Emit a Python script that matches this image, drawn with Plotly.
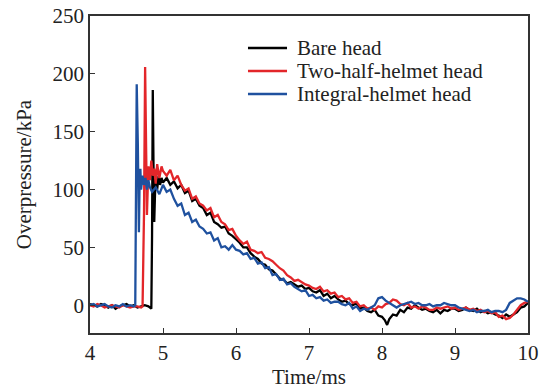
import plotly.graph_objects as go

# ---------------- data ----------------
bare_t = [4.00, 4.05, 4.10, 4.15, 4.20, 4.25, 4.30, 4.35, 4.40, 4.45, 4.50, 4.55, 4.60, 4.65, 4.70, 4.75, 4.80,
          4.82, 4.84, 4.85, 4.86, 4.87, 4.88, 4.89, 4.90, 4.92, 4.94, 4.96, 4.98,
          5.00, 5.05, 5.10, 5.15, 5.20, 5.25, 5.30, 5.35, 5.40, 5.45, 5.50, 5.55, 5.60, 5.65, 5.70, 5.75,
          5.80, 5.85, 5.90, 5.95, 6.00, 6.05, 6.10, 6.15, 6.20, 6.25, 6.30, 6.35, 6.40, 6.45, 6.50, 6.55,
          6.60, 6.65, 6.70, 6.75, 6.80, 6.85, 6.90, 6.95, 7.00, 7.05, 7.10, 7.15, 7.20, 7.25, 7.30, 7.35,
          7.40, 7.45, 7.50, 7.55, 7.60, 7.65, 7.70, 7.75, 7.80, 7.85, 7.90, 7.95, 8.00, 8.04, 8.07, 8.10,
          8.15, 8.20, 8.25, 8.30, 8.35, 8.40, 8.45, 8.50, 8.55, 8.60, 8.65, 8.70, 8.75, 8.80, 8.85, 8.90,
          8.95, 9.00, 9.05, 9.10, 9.15, 9.20, 9.25, 9.30, 9.35, 9.40, 9.45, 9.50, 9.55, 9.60, 9.65, 9.70,
          9.75, 9.80, 9.85, 9.90, 9.95, 10.00]
bare_v = [1, 0, -1, 1, 0, -2, 0, -3, -1, 0, 1, -1, 0, -2, -1, 0, -1,
          -2, -3, 60, 186, 120, 72, 95, 110, 100, 112, 104, 110,
          106, 110, 104, 107, 101, 104, 97, 99, 90, 92, 86, 84, 78, 80, 72, 70,
          67, 68, 62, 60, 57, 54, 50, 50, 45, 42, 40, 36, 35, 31, 30, 26,
          23, 22, 19, 20, 18, 16, 17, 14, 15, 12, 11, 13, 8, 10, 6, 8,
          5, 3, 4, 1, 0, 2, -3, -2, -5, -6, -4, -9, -10, -13, -17, -12,
          -8, -9, -4, -6, -2, -3, 0, -2, -4, -3, -5, -6, -4, -7, -4, -5,
          -3, -3, -5, -4, -2, -4, -5, -3, -6, -5, -7, -6, -8, -9, -11, -8,
          -10, -8, -6, -2, -1, 2]

helmet2_t = [4.00, 4.05, 4.10, 4.15, 4.20, 4.25, 4.30, 4.35, 4.40, 4.45, 4.50, 4.55, 4.60, 4.65, 4.70,
             4.72, 4.74, 4.755, 4.77, 4.78, 4.80, 4.82, 4.84, 4.86, 4.88, 4.90, 4.92, 4.95, 4.98,
             5.00, 5.05, 5.10, 5.15, 5.20, 5.25, 5.30, 5.35, 5.40, 5.45, 5.50, 5.55, 5.60, 5.65, 5.70, 5.75,
             5.80, 5.85, 5.90, 5.95, 6.00, 6.05, 6.10, 6.15, 6.20, 6.25, 6.30, 6.35, 6.40, 6.45, 6.50, 6.55,
             6.60, 6.65, 6.70, 6.75, 6.80, 6.85, 6.90, 6.95, 7.00, 7.05, 7.10, 7.15, 7.20, 7.25, 7.30, 7.35,
             7.40, 7.45, 7.50, 7.55, 7.60, 7.65, 7.70, 7.75, 7.80, 7.85, 7.90, 7.95, 8.00, 8.05, 8.10, 8.15,
             8.20, 8.25, 8.30, 8.35, 8.40, 8.45, 8.50, 8.55, 8.60, 8.65, 8.70, 8.75, 8.80, 8.85, 8.90, 8.95,
             9.00, 9.05, 9.10, 9.15, 9.20, 9.25, 9.30, 9.35, 9.40, 9.45, 9.50, 9.55, 9.60, 9.65, 9.70, 9.75,
             9.80, 9.85, 9.90, 9.95, 10.00]
helmet2_v = [0, -1, 1, 0, -2, -1, 0, -1, -2, 0, -1, -2, -1, -1, -2,
             -1, 80, 206, 130, 78, 120, 108, 125, 112, 118, 105, 122, 110, 120,
             116, 112, 117, 108, 112, 104, 99, 101, 92, 94, 88, 86, 82, 84, 76, 78,
             72, 70, 65, 66, 60, 56, 53, 55, 48, 47, 45, 46, 41, 40, 38, 35,
             32, 30, 26, 24, 21, 22, 20, 18, 17, 15, 14, 16, 12, 13, 10, 11,
             7, 8, 5, 6, 2, 3, -1, 0, -3, -2, -4, -1, -2, 1, 2, 5,
             4, 1, 0, 2, -2, -1, -3, -1, -2, -4, -4, -2, -3, -2, -1, -3,
             -2, -4, -3, -2, -4, -3, -5, -4, -6, -5, -7, -6, -10, -9, -12, -11,
             -8, -4, 0, 2, 3]

integral_t = [4.00, 4.05, 4.10, 4.15, 4.20, 4.25, 4.30, 4.35, 4.40, 4.45, 4.50, 4.55, 4.60,
              4.62, 4.63, 4.64, 4.655, 4.67, 4.68, 4.69, 4.70, 4.72, 4.74, 4.76, 4.78, 4.80, 4.82, 4.85,
              4.90, 4.95, 5.00, 5.05, 5.10, 5.15, 5.20, 5.25, 5.30, 5.35, 5.40, 5.45, 5.50, 5.55, 5.60, 5.65,
              5.70, 5.75, 5.80, 5.85, 5.90, 5.95, 6.00, 6.05, 6.10, 6.15, 6.20, 6.25, 6.30, 6.35, 6.40, 6.45,
              6.50, 6.55, 6.60, 6.65, 6.70, 6.75, 6.80, 6.85, 6.90, 6.95, 7.00, 7.05, 7.10, 7.15, 7.20, 7.25,
              7.30, 7.35, 7.40, 7.45, 7.50, 7.55, 7.60, 7.65, 7.70, 7.75, 7.80, 7.85, 7.90, 7.95, 8.00, 8.05,
              8.10, 8.15, 8.20, 8.25, 8.30, 8.35, 8.40, 8.45, 8.50, 8.55, 8.60, 8.65, 8.70, 8.75, 8.80, 8.85,
              8.90, 8.95, 9.00, 9.05, 9.10, 9.15, 9.20, 9.25, 9.30, 9.35, 9.40, 9.45, 9.50, 9.55, 9.60, 9.65,
              9.70, 9.75, 9.80, 9.85, 9.90, 9.95, 10.00]
integral_v = [0, 1, -1, 0, 1, -1, -2, 0, -1, 1, -1, 0, -1,
              0, 100, 191, 140, 63, 110, 118, 100, 112, 104, 110, 100, 108, 102, 98,
              102, 96, 104, 98, 100, 92, 86, 88, 78, 80, 72, 74, 68, 66, 62, 63,
              56, 58, 50, 51, 48, 52, 48, 47, 44, 45, 40, 41, 36, 37, 32, 33,
              26, 27, 22, 23, 18, 19, 16, 14, 12, 13, 8, 9, 6, 7, 4, 5,
              2, 3, 3, 1, 0, 2, -3, -1, -5, -3, -4, -2, 0, 6, 7, 4,
              2, 0, -2, 0, 1, 2, 3, 1, 2, 0, 0, 1, -1, 0, 0, 2,
              1, 0, 0, -2, -3, -4, -5, -4, -6, -5, -5, -4, -6, -5, -5, -6,
              -4, 2, 4, 6, 6, 5, 3]

series_names = ["Bare head", "Two-half-helmet head", "Integral-helmet head"]
series_colors = ["#000000", "#e3262a", "#1f519f"]
x_title = "Time/ms"
y_title = "Overpressure/kPa"
x_ticks = [4, 5, 6, 7, 8, 9, 10]
y_ticks = [0, 50, 100, 150, 200, 250]

# ---------------- figure ----------------
fig = go.Figure()
for t, v, name, col in zip([bare_t, helmet2_t, integral_t],
                           [bare_v, helmet2_v, integral_v],
                           series_names, series_colors):
    fig.add_trace(go.Scatter(x=t, y=v, mode="lines", name=name, showlegend=False,
                             line=dict(color=col, width=2.3)))

font_family = "Liberation Serif, Times New Roman, serif"
FS = 21

# manual legend (line sample + label), positioned in paper coordinates
leg_x0, leg_x1, leg_tx = 0.3607, 0.4498, 0.468
leg_rows = [0.899, 0.8265, 0.754]
for name, col, yy in zip(series_names, series_colors, leg_rows):
    fig.add_shape(type="line", xref="paper", yref="paper",
                  x0=leg_x0, x1=leg_x1, y0=yy, y1=yy,
                  line=dict(color=col, width=2.3))
    fig.add_annotation(xref="paper", yref="paper", x=leg_tx, y=yy,
                       xanchor="left", yanchor="middle", showarrow=False,
                       text=name, font=dict(family=font_family, size=FS, color="#222"))

fig.update_layout(
    width=542, height=389,
    margin=dict(l=90, r=14, t=16, b=56),
    paper_bgcolor="white", plot_bgcolor="white",
    font=dict(family=font_family, size=FS, color="#222"),
    showlegend=False,
)
fig.update_xaxes(
    range=[4, 10], tickvals=x_ticks, ticks="inside", ticklen=5, tickwidth=1.2,
    tickcolor="#333", showline=True, linecolor="#333", linewidth=1.5, mirror=True,
    showgrid=False, zeroline=False, automargin=False,
    title=dict(text=x_title, font=dict(size=FS), standoff=9),
)
fig.update_yaxes(
    range=[-24, 250], tickvals=y_ticks, ticks="inside", ticklen=5, tickwidth=1.2,
    tickcolor="#333", showline=True, linecolor="#333", linewidth=1.5, mirror=True,
    showgrid=False, zeroline=False, automargin=False,
    title=dict(text=y_title, font=dict(size=FS), standoff=15),
)

fig.write_html("out.html")
